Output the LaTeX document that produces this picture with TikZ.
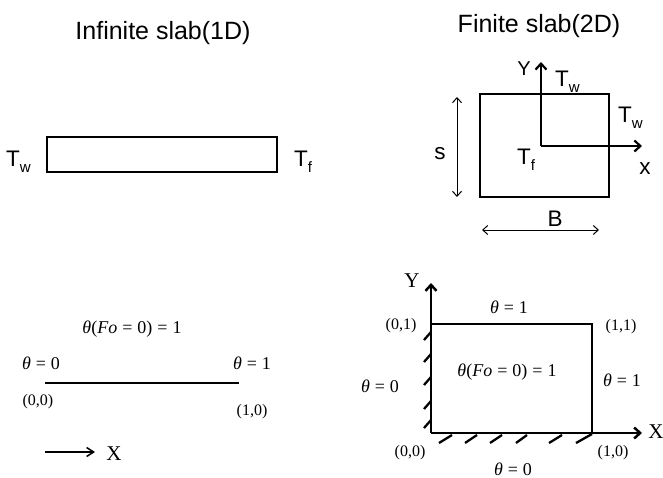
\documentclass[tikz,border=0pt]{standalone}
\usepackage{fontspec}
\setmainfont{Liberation Serif}
\setsansfont{Liberation Sans}
\usetikzlibrary{arrows.meta}
\newcommand{\Tsub}[1]{T\raisebox{-6pt}{\fontsize{15}{15}\selectfont #1}}
\newcommand{\thet}{\textit{θ}}
\begin{document}
\begin{tikzpicture}[x=1pt,y=-1pt,
  ttl/.style={font=\sffamily\fontsize{25}{28}\selectfont, inner sep=0},
  slbl/.style={font=\sffamily\fontsize{22.5}{24}\selectfont, inner sep=0},
  rlbl/.style={font=\fontsize{18}{20}\selectfont, inner sep=0},
  clbl/.style={font=\fontsize{16}{19}\selectfont, inner sep=0},
  axlbl/.style={font=\fontsize{21}{24}\selectfont, inner sep=0},
  thickbox/.style={draw, line width=2.5pt, inner sep=0},
  axarrow/.style={line width=2.2pt, -{Straight Barb[length=6pt,width=11pt]}},
  dimarrow/.style={line width=1pt, {Straight Barb[length=5pt,width=9pt]}-{Straight Barb[length=5pt,width=9pt]}},
  hatch/.style={line width=2.3pt},
]
\useasboundingbox (0,0) rectangle (663,478);

% ---------- Infinite slab (1D) ----------
\node[ttl] (t1) at (163,33) {Infinite slab(1D)};
\node[thickbox, minimum width=230pt, minimum height=35pt] (slabA) at (162,154.5) {};
\node[slbl, anchor=base west] (twA) at (6,167) {\Tsub{w}};
\node[slbl, anchor=base west] (tfA) at (294,167) {\Tsub{f}};

% ---------- Finite slab (2D) ----------
\node[ttl, anchor=base] (t2) at (539,33) {Finite slab(2D)};
\node[thickbox, minimum width=129pt, minimum height=103pt] (slabB) at (544.5,145.5) {};
\coordinate (oB) at (541,146);
\coordinate (yB) at (541,62);
\coordinate (xB) at (642,146);
\draw[axarrow] (oB) -- (yB);
\draw[axarrow] (oB) -- (xB);
\node[font=\sffamily\fontsize{20}{22}\selectfont, inner sep=0] (ylB) at (524,69) {Y};
\node[slbl, anchor=base west] (twB1) at (555,87) {\Tsub{w}};
\node[slbl, anchor=base west] (twB2) at (618,123) {\Tsub{w}};
\node[slbl, anchor=base] (xlB) at (645,175) {x};
\node[slbl, anchor=base] (slB) at (440,160) {s};
\node[slbl, anchor=base west] (tfB) at (517,165) {\Tsub{f}};
\coordinate (sTop) at (457,97);
\coordinate (sBot) at (457,197);
\draw[dimarrow] (sTop) -- (sBot);
\node[slbl, anchor=base] (bl) at (555,226) {B};
\coordinate (bL) at (482,230);
\coordinate (bR) at (599,230);
\draw[dimarrow] (bL) -- (bR);

% ---------- 1D nondimensional ----------
\node[rlbl] (fo1) at (132,329) {\thet(\textit{Fo}\;=\;0)\;=\;1};
\node[rlbl] (th0A) at (41,363) {\thet\;=\;0};
\node[rlbl] (th1A) at (252,363) {\thet\;=\;1};
\coordinate (lA) at (45,383);
\coordinate (rA) at (239,383);
\draw[line width=2pt] (lA) -- (rA);
\node[clbl] (c00A) at (38,402) {(0,0)};
\node[clbl] (c10A) at (252,412) {(1,0)};
\coordinate (arL) at (45,452);
\coordinate (arR) at (95,452);
\draw[line width=1.5pt, -{Straight Barb[length=7pt,width=9pt]}] (arL) -- (arR);
\node[axlbl] (xA) at (114,454) {X};

% ---------- 2D nondimensional ----------
\coordinate (O) at (431,433);
\coordinate (P01) at (431,324);
\coordinate (P11) at (592,324);
\coordinate (P10) at (592,433);
\coordinate (Ytip) at (431,283);
\coordinate (Xtip) at (642,433);
\draw[line width=1.5pt] (P01) -- (P11) -- (P10);
\draw[axarrow, line width=2.5pt] (O) -- (Ytip);
\draw[axarrow, line width=2.5pt] (O) -- (Xtip);
\node[axlbl] (yC) at (412,281) {Y};
\node[axlbl] (xC) at (656,432) {X};
% hatching, left wall
\foreach \yy in {336,358,381,405,424}
  \draw[hatch] (431,\yy-4) -- (424,\yy+4);
% hatching, bottom wall
\draw[hatch] (452,435) -- (439,443);
\draw[hatch] (477,435) -- (465,443);
\draw[hatch] (502,435) -- (490,443);
\draw[hatch] (527,435) -- (516,443);
\draw[hatch] (562,435) -- (549,443);
\draw[hatch] (592,434) -- (576,443);
\node[rlbl] (th1top) at (509,307) {\thet\;=\;1};
\node[clbl] (c11) at (621,327) {(1,1)};
\node[rlbl] (foC) at (507,372) {\thet(\textit{Fo}\;=\;0)\;=\;1};
\node[rlbl] (th1r) at (622,380) {\thet\;=\;1};
\node[clbl] (c10C) at (613,453) {(1,0)};
\node[rlbl] (th0bot) at (513,469) {\thet\;=\;0};
\node[clbl] (c00C) at (410,453) {(0,0)};
\node[clbl] (c01C) at (401,326) {(0,1)};
\node[rlbl] (th0l) at (380,386) {\thet\;=\;0};
\end{tikzpicture}
\end{document}
